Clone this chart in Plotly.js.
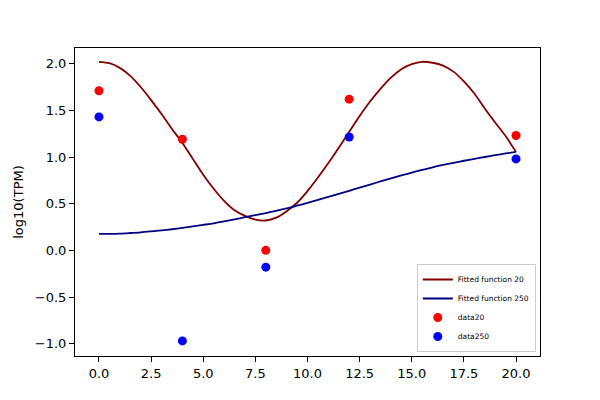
<!DOCTYPE html>
<html>
<head>
<meta charset="utf-8">
<script src="https://cdn.plot.ly/plotly-3.0.1.min.js"></script>
<style>
  html, body { margin: 0; padding: 0; background: #fff; }
  #plot { width: 600px; height: 400px; }
</style>
</head>
<body>
<div id="plot"></div>
<script>
// Fitted curves, every half hour.
const fitX = [0, 0.5, 1, 1.5, 2, 2.5, 3, 3.5, 4, 4.5, 5, 5.5, 6, 6.5, 7, 7.5, 8, 8.5, 9, 9.5,
              10, 10.5, 11, 11.5, 12, 12.5, 13, 13.5, 14, 14.5, 15, 15.5, 16, 16.5, 17, 17.5,
              18, 18.5, 19, 19.5, 20];
const fit20 = [2.02, 2.005, 1.955, 1.87, 1.75, 1.61, 1.46, 1.30, 1.15, 0.98,
               0.81, 0.66, 0.53, 0.43, 0.37, 0.33, 0.32, 0.35, 0.42, 0.51,
               0.635, 0.78, 0.935, 1.10, 1.27, 1.44, 1.595, 1.73, 1.85, 1.94,
               1.995, 2.02, 2.01, 1.98, 1.915, 1.81, 1.68, 1.52, 1.37, 1.225, 1.055];
const fit250 = [0.176, 0.177, 0.18, 0.186, 0.193, 0.203, 0.214, 0.226, 0.24, 0.256,
                0.273, 0.29, 0.31, 0.332, 0.355, 0.378, 0.40, 0.424, 0.449, 0.478,
                0.508, 0.54, 0.572, 0.605, 0.638, 0.672, 0.705, 0.738, 0.77, 0.802,
                0.833, 0.862, 0.89, 0.915, 0.938, 0.96, 0.98, 1.0, 1.02, 1.038, 1.055];

// Measured points.
const dataX = [0, 4, 8, 12, 20];
const data20 = [1.71, 1.19, 0.00, 1.62, 1.23];
const data250 = [1.43, -0.97, -0.18, 1.215, 0.98];

const FONT = "DejaVu Sans, sans-serif";

const traces = [
  { type: "scatter", mode: "lines", x: fitX, y: fit20, name: "Fitted function 20",
    line: { color: "#800000", width: 1.8, shape: "spline", smoothing: 0.8 } },
  { type: "scatter", mode: "lines", x: fitX, y: fit250, name: "Fitted function 250",
    line: { color: "#000080", width: 1.8, shape: "spline", smoothing: 0.8 } },
  { type: "scatter", mode: "markers", x: dataX, y: data20, name: "data20",
    marker: { color: "#ff0000", size: 9 } },
  { type: "scatter", mode: "markers", x: dataX, y: data250, name: "data250",
    marker: { color: "#0000ff", size: 9 } },
];

const axisBase = {
  showline: true, mirror: true, linecolor: "#000", linewidth: 1,
  ticks: "outside", ticklen: 5, tickwidth: 1, tickcolor: "#000",
  showgrid: false, zeroline: false,
  tickfont: { family: FONT, size: 13, color: "#000" },
  tickformat: ".1f",
};

const layout = {
  width: 600, height: 400,
  paper_bgcolor: "#fff", plot_bgcolor: "#fff",
  margin: { l: 75, r: 60, t: 48, b: 44 },
  font: { family: FONT, color: "#000" },
  xaxis: Object.assign({}, axisBase, { range: [-1.15, 21.15], dtick: 2.5, tick0: 0 }),
  yaxis: Object.assign({}, axisBase, {
    range: [-1.132, 2.168], dtick: 0.5, tick0: 0,
    title: { text: "log10(TPM)", font: { family: FONT, size: 13 }, standoff: 8 },
  }),
  showlegend: true,
  legend: {
    x: 0.991, y: 0.013, xanchor: "right", yanchor: "bottom",
    bgcolor: "rgba(255,255,255,0.8)", bordercolor: "#cccccc", borderwidth: 1,
    font: { family: FONT, size: 7.5 }, itemwidth: 30, tracegroupgap: 0,
  },
};

Plotly.newPlot("plot", traces, layout, { displayModeBar: false, staticPlot: true });
</script>
</body>
</html>
